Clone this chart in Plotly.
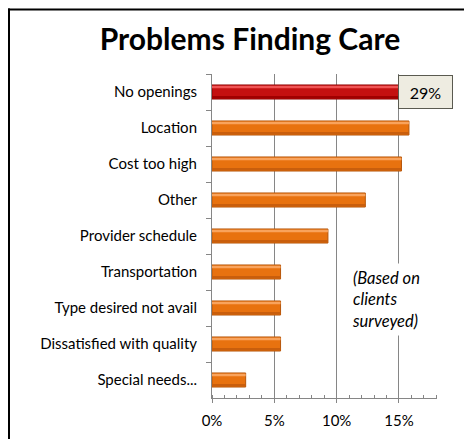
import plotly.graph_objects as go

# ---- data ----
categories = ["No openings", "Location", "Cost too high", "Other", "Provider schedule",
              "Transportation", "Type desired not avail", "Dissatisfied with quality",
              "Special needs..."]
values = [29, 15.8, 15.2, 12.3, 9.3, 5.5, 5.5, 5.5, 2.7]
x_ticks = [0, 5, 10, 15]
x_tick_labels = ["0%", "5%", "10%", "15%"]
highlight = "No openings"
note_text = "(Based on<br>clients<br>surveyed)"
title_text = "<b>Problems Finding Care</b>"

# page body has an 8px margin; work in page pixel coordinates and shift
OFF = 8
W, H = 472 - OFF, 439 - OFF
L, R, T, B = 212 - OFF, 472 - 437, 73.5 - OFF, 439 - 397.7
pw, ph = W - L - R, H - T - B

def px_x(p):  # page pixel -> paper x
    return (p - OFF - L) / pw

def px_y(p):  # page pixel -> paper y
    return 1 - (p - OFF - T) / ph

FONT = "Lato"
main_cols = ["#C41010" if c == highlight else "#E8720F" for c in categories]
line_cols = ["#8E0000" if c == highlight else "#B5560A" for c in categories]
hi_cols = ["#F05454" if c == highlight else "#F9A35C" for c in categories]
lo_cols = ["#A00000" if c == highlight else "#C95E0C" for c in categories]

fig = go.Figure()
fig.add_trace(go.Bar(
    x=values, y=categories, orientation="h", width=0.39,
    marker=dict(color=main_cols, line=dict(color=line_cols, width=1)),
    hoverinfo="skip", showlegend=False,
))
fig.add_trace(go.Bar(
    x=values, y=categories, orientation="h", width=0.07, offset=-0.175,
    marker=dict(color=hi_cols, line=dict(width=0)),
    hoverinfo="skip", showlegend=False,
))
fig.add_trace(go.Bar(
    x=values, y=categories, orientation="h", width=0.07, offset=0.11,
    marker=dict(color=lo_cols, line=dict(width=0)),
    hoverinfo="skip", showlegend=False,
))

fig.update_layout(
    width=W, height=H,
    margin=dict(l=L, r=R, t=T, b=B, pad=0),
    paper_bgcolor="white", plot_bgcolor="white",
    barmode="overlay",
    font=dict(family=FONT, size=15, color="#000000"),
    showlegend=False,
    title=dict(text=title_text, x=(250 - OFF) / W, xanchor="center",
               y=1 - (39 - OFF) / H, yanchor="middle", yref="container",
               font=dict(family=FONT, size=30, color="#000000")),
)

fig.update_xaxes(
    range=[0, 18.05], tickvals=x_ticks, ticktext=x_tick_labels,
    showgrid=True, gridcolor="#868686", gridwidth=1,
    showline=True, linecolor="#868686", linewidth=1,
    ticks="outside", ticklen=4, tickcolor="#868686",
    minor=dict(dtick=1, ticks="inside", ticklen=3, tickcolor="#868686", showgrid=False),
    tickfont=dict(family=FONT, size=15, color="#000000"),
    ticklabelstandoff=5, zeroline=False, fixedrange=True, automargin=False,
)
fig.update_yaxes(
    categoryorder="array", categoryarray=categories, autorange="reversed",
    showline=True, linecolor="#868686", linewidth=1,
    ticks="outside", ticklen=5, tickcolor="#868686", tickson="boundaries",
    tickfont=dict(family=FONT, size=15, color="#000000"),
    ticklabelstandoff=11, showgrid=False, fixedrange=True, automargin=False,
)

# value label box for highlighted bar
hi_idx = categories.index(highlight)
fig.add_annotation(
    x=px_x(425.5), xref="paper", y=categories[hi_idx], yref="y",
    text=f"{values[hi_idx]}%", showarrow=False,
    font=dict(family=FONT, size=16, color="#000000"),
    bgcolor="#EEECE1", bordercolor="#5A5A50", borderwidth=1,
    width=49, height=28, borderpad=2,
    xanchor="center", yanchor="middle",
)

# note
fig.add_annotation(
    x=px_x(347), xref="paper", y=px_y(299), yref="paper",
    text=note_text, showarrow=False, align="left",
    font=dict(family=FONT, size=16.5, color="#000000", style="italic"),
    bgcolor="white", borderpad=4, xanchor="left", yanchor="middle",
)

# outer frame (left and top edges visible)
fig.add_shape(type="line", xref="paper", yref="paper",
              x0=px_x(9), x1=px_x(9), y0=px_y(470), y1=px_y(8),
              line=dict(color="black", width=2), layer="above")
fig.add_shape(type="line", xref="paper", yref="paper",
              x0=px_x(8), x1=px_x(500), y0=px_y(9), y1=px_y(9),
              line=dict(color="black", width=2), layer="above")

fig.write_html("out.html", config={"displayModeBar": False})
